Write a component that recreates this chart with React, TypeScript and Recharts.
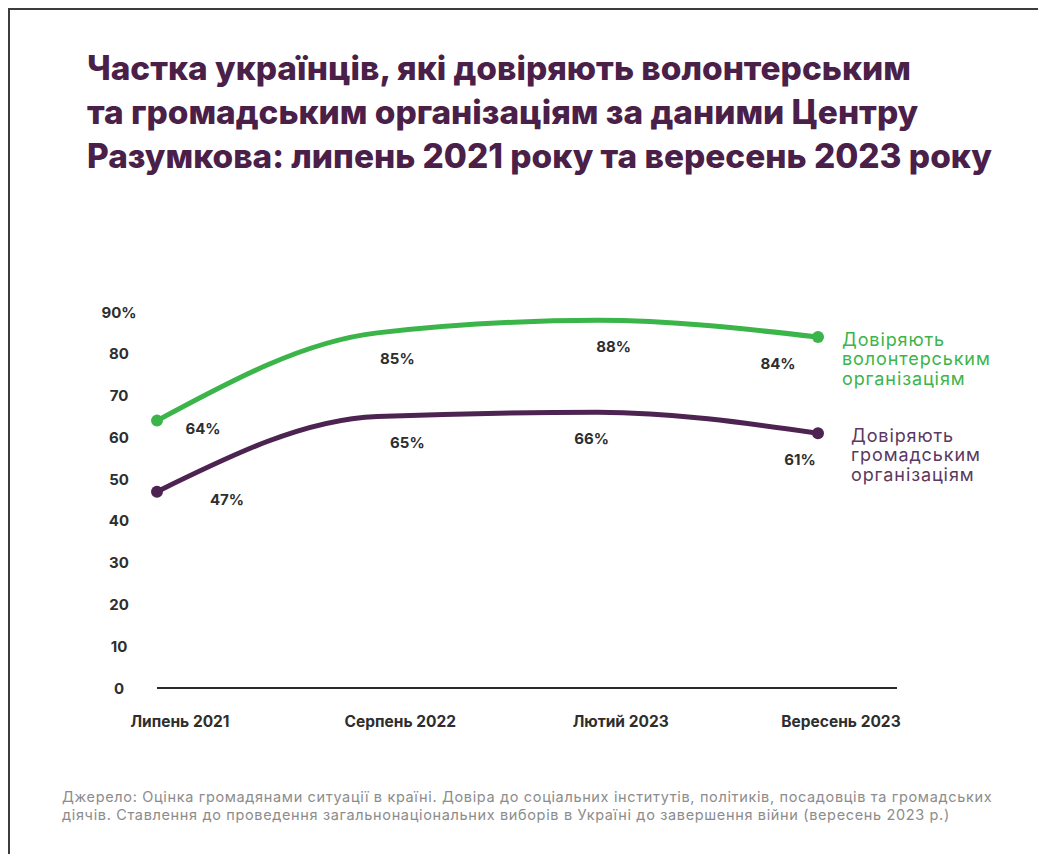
import React from "react";
import { LineChart, Line, XAxis, YAxis } from "recharts";

const categories = ["Липень 2021", "Серпень 2022", "Лютий 2023", "Вересень 2023"];
const volunteerTrust = [64, 85, 88, 84];
const civilTrust = [47, 65, 66, 61];
const yTicks = [0, 10, 20, 30, 40, 50, 60, 70, 80, 90];
const titleLines = [
  "Частка українців, які довіряють волонтерським",
  "та громадським організаціям за даними Центру",
  "Разумкова: липень 2021 року та вересень 2023 року",
];
const volunteerLegend = ["Довіряють", "волонтерським", "організаціям"];
const civilLegend = ["Довіряють", "громадським", "організаціям"];
const sourceLines = [
  "Джерело: Оцінка громадянами ситуації в країні. Довіра до соціальних інститутів, політиків, посадовців та громадських",
  "діячів. Ставлення до проведення загальнонаціональних виборів в Україні до завершення війни (вересень 2023 р.)",
];

const data = categories.map((c, i) => ({
  name: c,
  volunteer: volunteerTrust[i],
  civil: civilTrust[i],
}));

const GREEN = "#3bb54a";
const PURPLE = "#4d2451";
const FONT = "Inter, 'Open Sans', sans-serif";

const greenLabelOffsets = [
  [46, 8],
  [20, 26],
  [16, 26],
  [-40, 26],
];
const purpleLabelOffsets = [
  [70, 8],
  [30, 26],
  [-6, 26],
  [-18, 26],
];

const makeDot = (color: string, last: number) => (props: any) => {
  const { cx, cy, index } = props;
  if (index !== 0 && index !== last) return <g key={`d${index}`} />;
  return <circle key={`d${index}`} cx={cx} cy={cy} r={6} fill={color} />;
};

const makeLabel =
  (offsets: number[][], legend: string[], legendColor: string, legendDx: number) =>
  (props: any) => {
    const { x, y, value, index } = props;
    const [dx, dy] = offsets[index];
    return (
      <g key={`l${index}`}>
        <text
          x={x + dx}
          y={y + dy}
          textAnchor="middle"
          dominantBaseline="central"
          fontFamily={FONT}
          fontWeight={700}
          fontSize={15}
          fill="#2e2e2e"
        >
          {value}%
        </text>
        {index === data.length - 1 &&
          legend.map((t, k) => (
            <text
              key={k}
              x={x + legendDx}
              y={y + 2 + k * 19.5}
              dominantBaseline="central"
              fontFamily={FONT}
              fontSize={18}
              letterSpacing={0.9}
              fill={legendColor}
            >
              {t}
            </text>
          ))}
      </g>
    );
  };

const YTick = (props: any) => {
  const { x, y, payload } = props;
  const v = payload.value;
  return (
    <text
      x={x - 38}
      y={y}
      textAnchor="middle"
      dominantBaseline="central"
      fontFamily={FONT}
      fontWeight={700}
      fontSize={15}
      fill="#2e2e2e"
    >
      {v === 90 ? "90%" : v}
    </text>
  );
};

const XTick = (props: any) => {
  const { x, y, payload } = props;
  return (
    <text
      x={x + 23}
      y={y + 33}
      textAnchor="middle"
      dominantBaseline="central"
      fontFamily={FONT}
      fontWeight={700}
      fontSize={15.5}
      fill="#2e2e2e"
    >
      {payload.value}
    </text>
  );
};

export default function App() {
  return (
    <div
      style={{
        position: "relative",
        width: 1040,
        height: 846,
        boxSizing: "border-box",
        borderTop: "2px solid #3c3c3c",
        borderLeft: "2px solid #3c3c3c",
        background: "#fff",
        fontFamily: FONT,
      }}
    >
      <div
        style={{
          position: "absolute",
          left: 77,
          top: 36,
          color: "#4a2049",
          fontSize: 33.4,
          fontWeight: 800,
          lineHeight: "44px",
          whiteSpace: "nowrap",
        }}
      >
        {titleLines.map((t, i) => (
          <div key={i}>{t}</div>
        ))}
      </div>
      <div style={{ position: "absolute", left: 0, top: 0 }}>
        <LineChart
          width={1030}
          height={760}
          data={data}
          margin={{ top: 302, right: 143, bottom: 32, left: 87 }}
        >
          <XAxis
            dataKey="name"
            interval={0}
            padding={{ left: 0, right: 79 }}
            axisLine={{ stroke: "#2a2a2a", strokeWidth: 2 }}
            tickLine={false}
            tickSize={0}
            tickMargin={0}
            height={50}
            tick={<XTick />}
          />
          <YAxis
            domain={[0, 90]}
            ticks={yTicks}
            width={60}
            axisLine={false}
            tickLine={false}
            tickSize={0}
            tickMargin={0}
            interval={0}
            tick={<YTick />}
          />
          <Line
            type="monotone"
            dataKey="volunteer"
            stroke={GREEN}
            strokeWidth={5}
            dot={makeDot(GREEN, data.length - 1)}
            activeDot={false}
            isAnimationActive={false}
            label={makeLabel(greenLabelOffsets, volunteerLegend, GREEN, 24)}
          />
          <Line
            type="monotone"
            dataKey="civil"
            stroke={PURPLE}
            strokeWidth={5}
            dot={makeDot(PURPLE, data.length - 1)}
            activeDot={false}
            isAnimationActive={false}
            label={makeLabel(purpleLabelOffsets, civilLegend, "#5b3860", 33)}
          />
        </LineChart>
      </div>
      <div
        style={{
          position: "absolute",
          left: 52,
          top: 778,
          color: "#8c8c8c",
          fontSize: 14.5,
          letterSpacing: 0.65,
          lineHeight: "18px",
          whiteSpace: "nowrap",
        }}
      >
        {sourceLines.map((t, i) => (
          <div key={i}>{t}</div>
        ))}
      </div>
    </div>
  );
}
